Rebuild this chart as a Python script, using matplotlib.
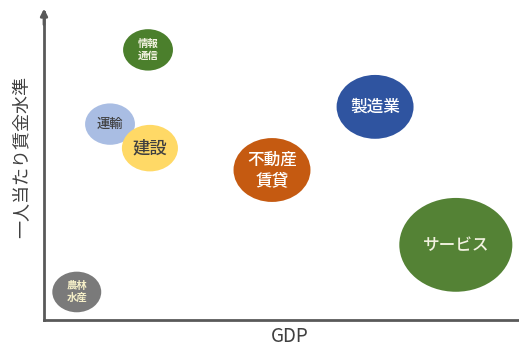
import matplotlib
matplotlib.use('Agg')
import matplotlib.pyplot as plt
from matplotlib.patches import Ellipse

plt.rcParams['font.family'] = ['Noto Sans CJK JP', 'DejaVu Sans']

# 業種ごとの GDP と 一人当たり賃金水準 (任意単位), バブルの大きさ
sectors = ['情報\n通信', '運輸', '建設', '不動産\n賃貸', '製造業', 'サービス', '農林\n水産']
gdp = [21.9, 13.9, 22.3, 48.0, 69.7, 86.7, 6.9]
wage = [87.7, 63.6, 55.8, 48.7, 69.2, 24.4, 9.1]
size = [10.5, 10.5, 11.8, 16.2, 16.2, 23.8, 10.3]

colors = ['#4b7f2c', '#a9bde3', '#ffd966', '#c55a11', '#2f54a0', '#548235', '#7a7a7a']
text_colors = ['#f2f2e0', '#404040', '#404040', '#ffffff', '#ffffff', '#f2f2e0', '#f5efc8']
font_sizes = [7.5, 9.5, 12.5, 12, 12, 12, 7.5]

fig = plt.figure(figsize=(5.19, 3.45), dpi=100)
ax = fig.add_axes([44 / 519, 25 / 345, 475 / 519, 308 / 345])
ax.set_xlim(0, 100)
ax.set_ylim(0, 100)

# 楕円の縦横比 (ピクセル上で高さ/幅 = 0.83)
hw = 0.83 * 4.75 / 3.08
for x, y, s, c, lab, tc, fs in zip(gdp, wage, size, colors, sectors, text_colors, font_sizes):
    ax.add_patch(Ellipse((x, y), s, s * hw, facecolor=c, edgecolor='none', zorder=2))
    ax.text(x, y, lab, ha='center', va='center', color=tc, fontsize=fs,
            fontweight='bold' if fs < 8 else 'medium', linespacing=1.15, zorder=3)

for side in ['top', 'right']:
    ax.spines[side].set_visible(False)
for side in ['left', 'bottom']:
    ax.spines[side].set_color('#595959')
    ax.spines[side].set_linewidth(2)
ax.set_xticks([])
ax.set_yticks([])

# 縦軸の矢印
ax.annotate('', xy=(0, 102), xytext=(0, 95), xycoords='data',
            arrowprops=dict(arrowstyle='-|>', color='#595959', lw=2, mutation_scale=10),
            annotation_clip=False)

fig.text(290 / 519, 1 - 336 / 345, 'GDP', ha='center', va='center',
         fontsize=13.5, color='#404040')
fig.text(22 / 519, 1 - 157 / 345, '一人当たり賃金水準', ha='center', va='center',
         rotation=90, fontsize=13, color='#404040')

fig.savefig('out.png', dpi=100)
